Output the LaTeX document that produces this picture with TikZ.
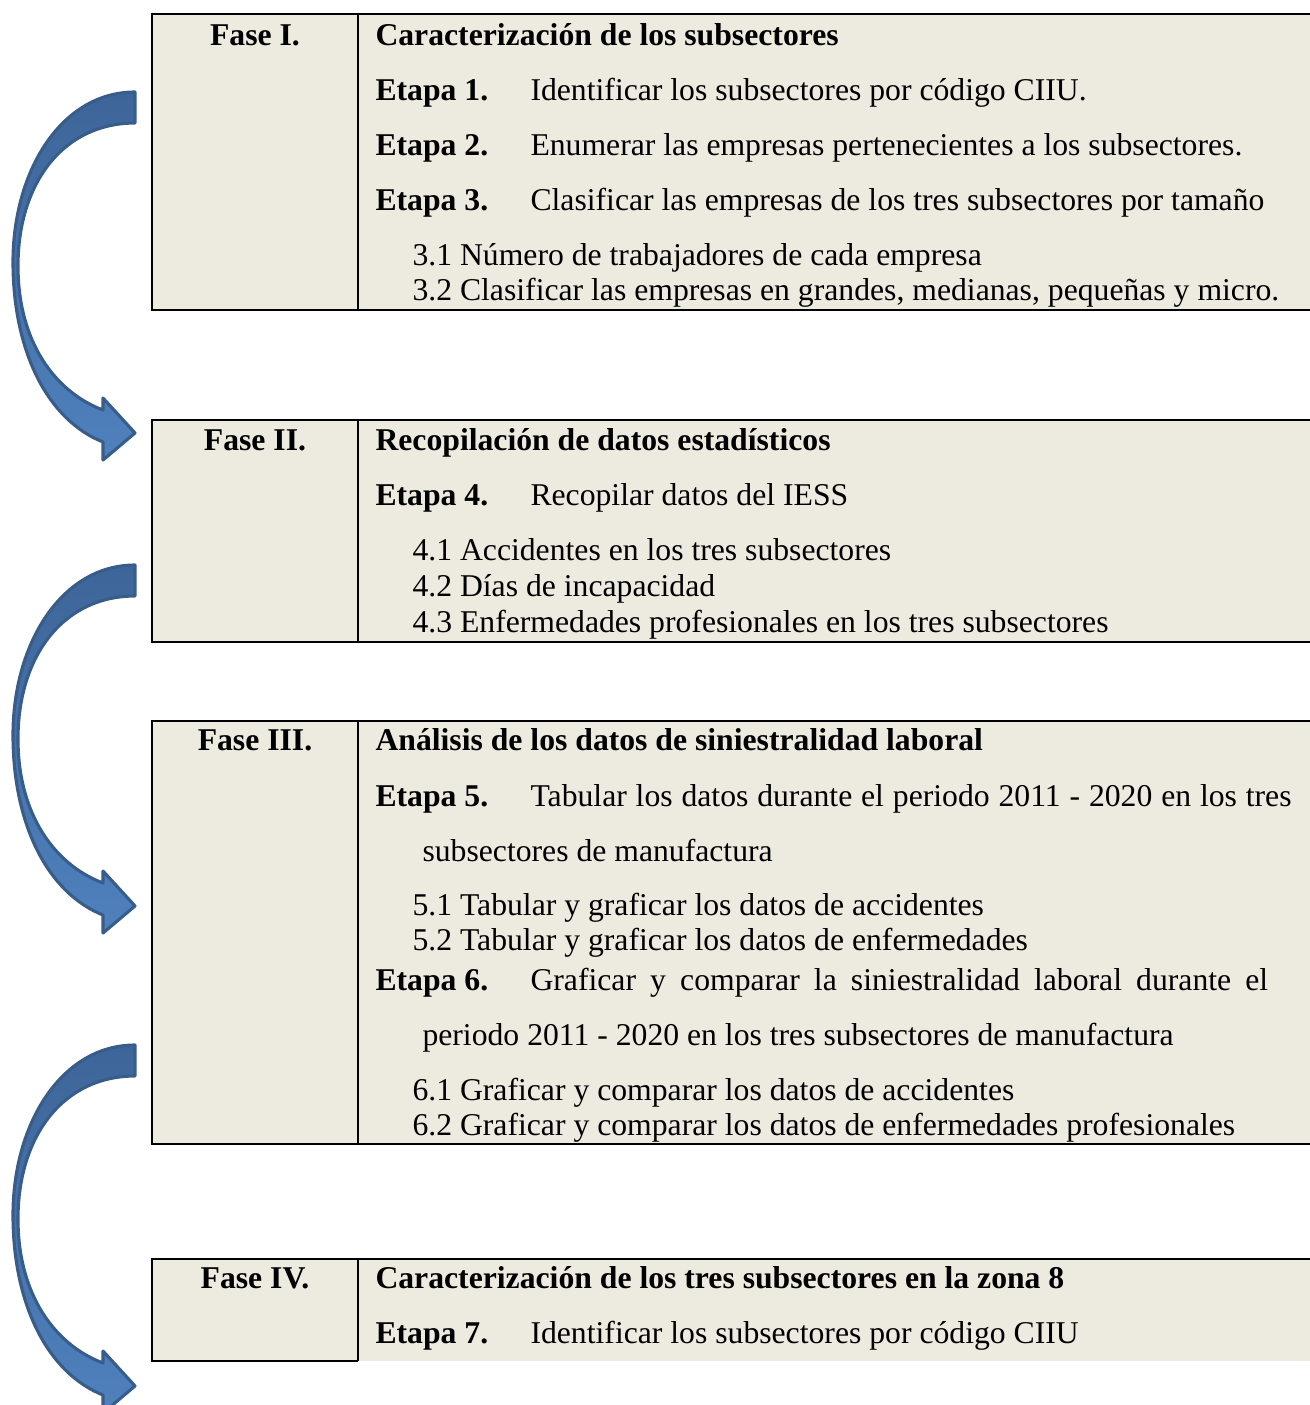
\documentclass[tikz,border=0pt]{standalone}
\usepackage{fontspec}
\setmainfont{Liberation Serif}
\usepackage{xcolor}
\usetikzlibrary{positioning}
\definecolor{panel}{RGB}{237,234,224}
\definecolor{arrowtop}{RGB}{62,101,153}
\definecolor{arrowbot}{RGB}{79,129,189}
\definecolor{arrowline}{RGB}{56,93,138}
\newcommand{\cuerpo}{\fontsize{12.2}{14}\selectfont}
\tikzset{
    celda/.style={fill=panel},
    borde/.style={draw=black, line width=0.8pt},
    fase/.style={anchor=base, font=\cuerpo\bfseries, inner sep=0pt},
    titulo/.style={anchor=base west, font=\cuerpo\bfseries, inner sep=0pt},
    etapa/.style={anchor=base west, font=\cuerpo\bfseries, inner sep=0pt},
    texto/.style={anchor=base west, font=\cuerpo, inner sep=0pt},
    flecha/.style={top color=arrowtop, bottom color=arrowbot, draw=arrowline, line width=1.2pt, line join=round}
}

\begin{document}
\begin{tikzpicture}[x=0.385pt, y=-0.385pt]
    \useasboundingbox (0,0) rectangle (1310,1405);

    % paneles
    \fill[celda] (152,14) rectangle (1310,310);
    \fill[celda] (152,420) rectangle (1310,642);
    \fill[celda] (152,721) rectangle (1310,1144);
    \fill[celda] (152,1259) rectangle (1310,1361);
    \draw[borde] (1320,14) -- (152,14) -- (152,310) -- (1320,310) (358,14) -- (358,310);
    \draw[borde] (1320,420) -- (152,420) -- (152,642) -- (1320,642) (358,420) -- (358,642);
    \draw[borde] (1320,721) -- (152,721) -- (152,1144) -- (1320,1144) (358,721) -- (358,1144);
    \draw[borde] (1320,1259) -- (152,1259) -- (152,1361) -- (358,1361) (358,1259) -- (358,1361);

    % flechas curvas
    \foreach \dy in {0,473,953}{
        \path[flecha, shift={(0,\dy)}] (135,92) .. controls (62,92) and (13,170) .. (13,262)
            .. controls (13,352) and (48,420) .. (103,442)
            -- (103,460) -- (135,433) -- (103,398) -- (103,410)
            .. controls (55,392) and (18,342) .. (18,266)
            .. controls (18,182) and (64,123) .. (135,123) -- cycle;
    }

    % Fase I
    \node[fase] (f1) at (255,45) {Fase I.};
    \node[titulo] (t1) at (375,45) {Caracterización de los subsectores};
    \node[etapa] (e1) at (375,100) {Etapa 1.};
    \node[texto] (d1) at (530,100) {Identificar los subsectores por código CIIU.};
    \node[etapa] (e2) at (375,155) {Etapa 2.};
    \node[texto] (d2) at (530,155) {Enumerar las empresas pertenecientes a los subsectores.};
    \node[etapa] (e3) at (375,210) {Etapa 3.};
    \node[texto] (d3) at (530,210) {Clasificar las empresas de los tres subsectores por tamaño};
    \node[texto] (s31) at (412,265) {3.1 Número de trabajadores de cada empresa};
    \node[texto] (s32) at (412,300) {3.2 Clasificar las empresas en grandes, medianas, pequeñas y micro.};

    % Fase II
    \node[fase] (f2) at (255,450) {Fase II.};
    \node[titulo] (t2) at (375,450) {Recopilación de datos estadísticos};
    \node[etapa] (e4) at (375,505) {Etapa 4.};
    \node[texto] (d4) at (530,505) {Recopilar datos del IESS};
    \node[texto] (s41) at (412,560) {4.1 Accidentes en los tres subsectores};
    \node[texto] (s42) at (412,596) {4.2 Días de incapacidad};
    \node[texto] (s43) at (412,632) {4.3 Enfermedades profesionales en los tres subsectores};

    % Fase III
    \node[fase] (f3) at (255,750) {Fase III.};
    \node[titulo] (t3) at (375,750) {Análisis de los datos de siniestralidad laboral};
    \node[etapa] (e5) at (375,806) {Etapa 5.};
    \node[texto] (d5) at (530,806) {\makebox[293pt][s]{Tabular los datos durante el periodo 2011 - 2020 en los tres}};
    \node[texto] (d5b) at (422,861) {subsectores de manufactura};
    \node[texto] (s51) at (412,915) {5.1 Tabular y graficar los datos de accidentes};
    \node[texto] (s52) at (412,950) {5.2 Tabular y graficar los datos de enfermedades};
    \node[etapa] (e6) at (375,990) {Etapa 6.};
    \node[texto] (d6) at (530,990) {\makebox[284pt][s]{Graficar y comparar la siniestralidad laboral durante el}};
    \node[texto] (d6b) at (422,1045) {periodo 2011 - 2020 en los tres subsectores de manufactura};
    \node[texto] (s61) at (412,1100) {6.1 Graficar y comparar los datos de accidentes};
    \node[texto] (s62) at (412,1135) {6.2 Graficar y comparar los datos de enfermedades profesionales};

    % Fase IV
    \node[fase] (f4) at (255,1288) {Fase IV.};
    \node[titulo] (t4) at (375,1288) {Caracterización de los tres subsectores en la zona 8};
    \node[etapa] (e7) at (375,1343) {Etapa 7.};
    \node[texto] (d7) at (530,1343) {Identificar los subsectores por código CIIU};
\end{tikzpicture}
\end{document}
